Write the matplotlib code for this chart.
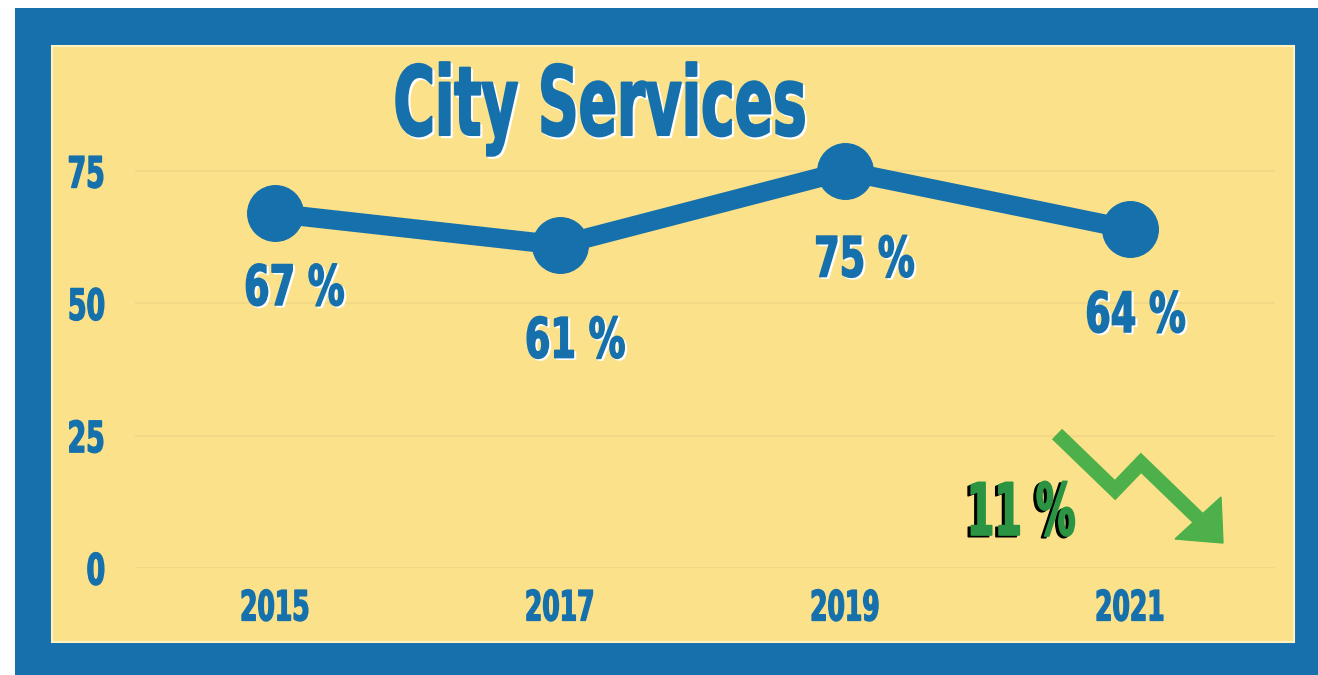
import matplotlib
matplotlib.use("Agg")
import matplotlib.pyplot as plt
import matplotlib.colors as mcolors
from matplotlib.patches import Rectangle, Polygon
from matplotlib.lines import Line2D
from matplotlib.patheffects import AbstractPathEffect
from matplotlib.transforms import Affine2D

# ---------------- data ----------------
years = [2015, 2017, 2019, 2021]
values = [67, 61, 75, 64]
y_ticks = [0, 25, 50, 75]
title = "City Services"
change = values[2] - values[3]  # drop from 2019 to 2021

# ---------------- style ----------------
BLUE = "#1570AC"
YELLOW = "#FBE28A"
GRID = "#F0D686"
GREEN_TXT = "#2A9442"
GREEN_ARROW = "#4DB04A"
FONT = "DejaVu Sans"
# label placement (offset points from each marker)
label_offsets = [(14, -66), (11, -81), (14, -76), (4, -74)]

W, H = 1318, 675


class Condensed(AbstractPathEffect):
    """Draw text glyphs horizontally condensed (poster-style font look)."""

    def __init__(self, sx=0.6, anchor="center", offset=(0, 0), color=None, stroke=0.8):
        super().__init__(offset)
        self.sx = sx
        self.anchor = anchor
        self.color = color
        self.stroke = stroke

    def draw_path(self, renderer, gc, tpath, affine, rgbFace=None):
        ext = tpath.get_extents()
        ax_ = {"center": (ext.x0 + ext.x1) / 2, "left": ext.x0, "right": ext.x1}[self.anchor]
        squeeze = Affine2D().translate(-ax_, 0).scale(self.sx, 1).translate(ax_, 0)
        aff = squeeze + affine + self._offset_transform(renderer)
        face = mcolors.to_rgba(self.color) if self.color is not None else rgbFace
        gc0 = renderer.new_gc()
        gc0.copy_properties(gc)
        if self.stroke:
            gc0.set_linewidth(self.stroke)
            gc0.set_foreground(face)
            gc0.set_joinstyle("round")
        renderer.draw_path(gc0, tpath, aff, face)
        gc0.restore()


def fx(x):
    return x / W


def fy(y):
    return 1 - y / H


fig = plt.figure(figsize=(W / 100, H / 100), dpi=100, facecolor="white")

# frame
fig.patches.append(Rectangle((fx(15), 0), 1 - fx(15), fy(8), transform=fig.transFigure,
                             facecolor=BLUE, edgecolor="none", zorder=-2))
fig.patches.append(Rectangle((fx(52), fy(642)), fx(1294) - fx(52), fy(46) - fy(642),
                             transform=fig.transFigure, facecolor=YELLOW,
                             edgecolor="#FFF1C2", lw=1.5, zorder=-1))

ax = fig.add_axes([fx(135), fy(568), fx(1275) - fx(135), fy(130) - fy(568)])
ax.set_zorder(2)
ax.set_facecolor("none")
ax.set_xlim(2014.02, 2022.02)
ax.set_ylim(0, (568 - 130) / (397 / 75))

ax.plot(years, values, color=BLUE, lw=14, marker="o", ms=40,
        solid_joinstyle="round", solid_capstyle="round", clip_on=False, zorder=3)

ax.set_xticks(years)
ax.set_yticks(y_ticks)
ax.grid(axis="y", color=GRID, lw=1.3)
ax.grid(axis="x", visible=False)
ax.set_axisbelow(True)
for s in ax.spines.values():
    s.set_visible(False)
ax.tick_params(axis="both", length=0, colors=BLUE)
ax.tick_params(axis="y", pad=21)
ax.tick_params(axis="x", pad=14)
for lab in ax.get_xticklabels():
    lab.set_fontfamily(FONT)
    lab.set_fontweight("bold")
    lab.set_fontsize(30)
    lab.set_path_effects([Condensed(sx=0.6, anchor="center", stroke=1.0)])
for lab in ax.get_yticklabels():
    lab.set_fontfamily(FONT)
    lab.set_fontweight("bold")
    lab.set_fontsize(31)
    lab.set_path_effects([Condensed(sx=0.62, anchor="right", stroke=1.0)])

# value labels
for yr, v, off in zip(years, values, label_offsets):
    ax.annotate(f"{v} %", (yr, v), xytext=off, textcoords="offset points",
                ha="center", va="baseline", fontsize=40, fontweight="bold",
                family=FONT, color=BLUE, zorder=4, annotation_clip=False,
                path_effects=[Condensed(sx=0.66, offset=(1.5, -1.2), color="white", stroke=1.1),
                              Condensed(sx=0.66, stroke=1.1)])

# title
fig.text(fx(600), fy(135), title, ha="center", va="baseline", fontsize=69,
         fontweight="bold", family=FONT, color=BLUE, zorder=5,
         path_effects=[Condensed(sx=0.59, offset=(1.5, -1.5), color="white", stroke=1.5),
                       Condensed(sx=0.59, stroke=1.5)])

# green decreasing arrow
pts = [(1057, 434), (1115, 490), (1141, 463), (1198, 518)]
fig.lines.append(Line2D([fx(p[0]) for p in pts], [fy(p[1]) for p in pts],
                        transform=fig.transFigure, color=GREEN_ARROW, lw=10.5,
                        solid_joinstyle="miter", solid_capstyle="butt", zorder=6))
head = [(1221, 497), (1223, 543), (1175, 539)]
fig.patches.append(Polygon([(fx(p[0]), fy(p[1])) for p in head], closed=True,
                           transform=fig.transFigure, facecolor=GREEN_ARROW,
                           edgecolor=GREEN_ARROW, lw=1, zorder=6))

fig.text(fx(1020), fy(535), f"{change} %", ha="center", va="baseline", fontsize=52,
         fontweight="bold", family=FONT, color=GREEN_TXT, zorder=7,
         path_effects=[Condensed(sx=0.55, offset=(-2.2, -1.2), color="black", stroke=1.2),
                       Condensed(sx=0.55, stroke=1.2)])

fig.savefig("out.png", dpi=100, facecolor="white")
